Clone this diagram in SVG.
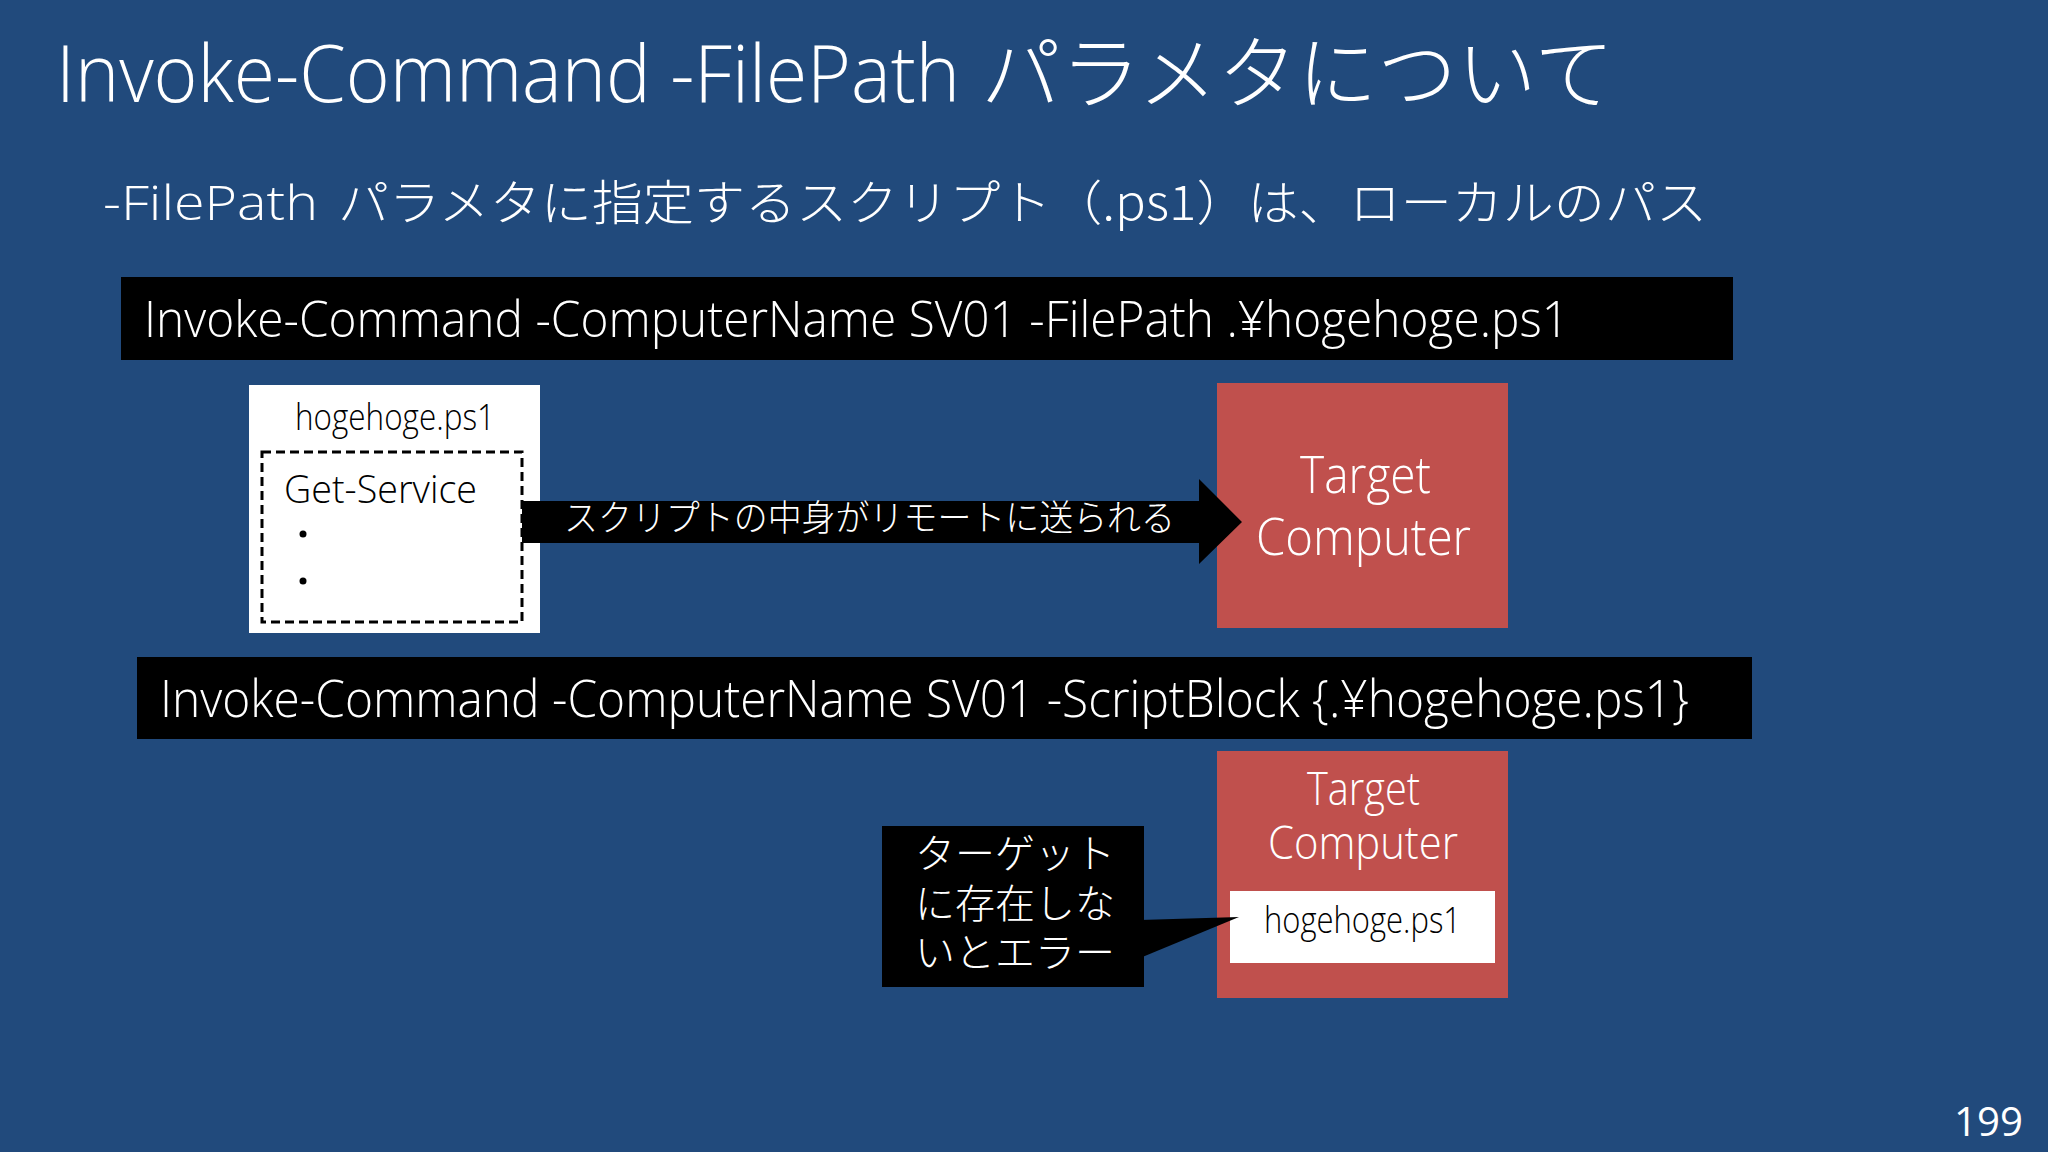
<svg xmlns="http://www.w3.org/2000/svg" width="2048" height="1152" viewBox="0 0 2048 1152">
<style>
.t{font-family:"Open Sans","Noto Sans CJK JP",sans-serif;font-weight:300;fill:#fff}
.j{font-family:"Noto Sans CJK JP","Noto Sans",sans-serif;font-weight:300;fill:#fff}
.k{font-family:"Open Sans","Noto Sans CJK JP",sans-serif;font-weight:300;fill:#000}
.red{fill:#C0504D}
.blk{fill:#000}
</style>
<rect width="2048" height="1152" fill="#214A7C"/>
<g id="title">
<text class="t" x="56" y="102" font-size="80" textLength="904" lengthAdjust="spacingAndGlyphs">Invoke-Command -FilePath</text>
<text class="j" x="981" y="102" font-size="80" textLength="633" lengthAdjust="spacingAndGlyphs">パラメタについて</text>
</g>
<g id="subtitle">
<text class="t" x="103" y="220" font-size="48" textLength="215" lengthAdjust="spacingAndGlyphs">-FilePath</text>
<text class="j" x="338" y="220" font-size="48" textLength="1369" lengthAdjust="spacingAndGlyphs">パラメタに指定するスクリプト（.ps1）は、ローカルのパス</text>
</g>
<g id="cmd1">
<rect class="blk" x="121" y="277" width="1612" height="83"/>
<text class="t" x="144" y="337" font-size="50" textLength="1425" lengthAdjust="spacingAndGlyphs">Invoke-Command -ComputerName SV01 -FilePath .¥hogehoge.ps1</text>
</g>
<g id="script-file">
<rect x="249" y="385" width="291" height="248" fill="#fff"/>
<text class="k" x="295" y="430" font-size="36" textLength="200" lengthAdjust="spacingAndGlyphs">hogehoge.ps1</text>
<rect x="262" y="452" width="260" height="170" fill="none" stroke="#000" stroke-width="3" stroke-dasharray="9 5"/>
<text class="k" x="284" y="503" font-size="38" textLength="193" lengthAdjust="spacingAndGlyphs">Get-Service</text>
<circle cx="303" cy="534" r="3.5" fill="#000"/>
<circle cx="303" cy="581" r="3.5" fill="#000"/>
</g>
<g id="target1">
<rect class="red" x="1217" y="383" width="291" height="245"/>
<text class="t" x="1300" y="493" font-size="52" textLength="131" lengthAdjust="spacingAndGlyphs">Target</text>
<text class="t" x="1256" y="555" font-size="52" textLength="215" lengthAdjust="spacingAndGlyphs">Computer</text>
</g>
<g id="cmd2">
<rect class="blk" x="137" y="657" width="1615" height="82"/>
<text class="t" x="160" y="717" font-size="52" textLength="1529" lengthAdjust="spacingAndGlyphs">Invoke-Command -ComputerName SV01 -ScriptBlock {.¥hogehoge.ps1}</text>
</g>
<g id="target2">
<rect class="red" x="1217" y="751" width="291" height="247"/>
<text class="t" x="1307" y="805" font-size="46" textLength="113" lengthAdjust="spacingAndGlyphs">Target</text>
<text class="t" x="1268" y="859" font-size="46" textLength="190" lengthAdjust="spacingAndGlyphs">Computer</text>
<rect x="1230" y="891" width="265" height="72" fill="#fff"/>
<text class="k" x="1264" y="933" font-size="36" textLength="197" lengthAdjust="spacingAndGlyphs">hogehoge.ps1</text>
</g>
<g id="callout">
<rect class="blk" x="882" y="826" width="262" height="161"/>
<polygon class="blk" points="1140,920 1239,917 1140,958"/>
<text class="j" font-size="40">
<tspan x="915" y="868">ターゲット</tspan>
<tspan x="915" y="918">に存在しな</tspan>
<tspan x="915" y="967">いとエラー</tspan>
</text>
</g>
<g id="connectors">
<polygon class="blk" points="522,501 1199,501 1199,479 1242,522 1199,564 1199,543 522,543"/>
<text class="j" x="564" y="531" font-size="36" font-weight="400" textLength="611" lengthAdjust="spacingAndGlyphs">スクリプトの中身がリモートに送られる</text>
</g>
<text x="1954" y="1136" font-family="Open Sans, sans-serif" font-size="40" fill="#fff" textLength="69" lengthAdjust="spacingAndGlyphs">199</text>
</svg>
